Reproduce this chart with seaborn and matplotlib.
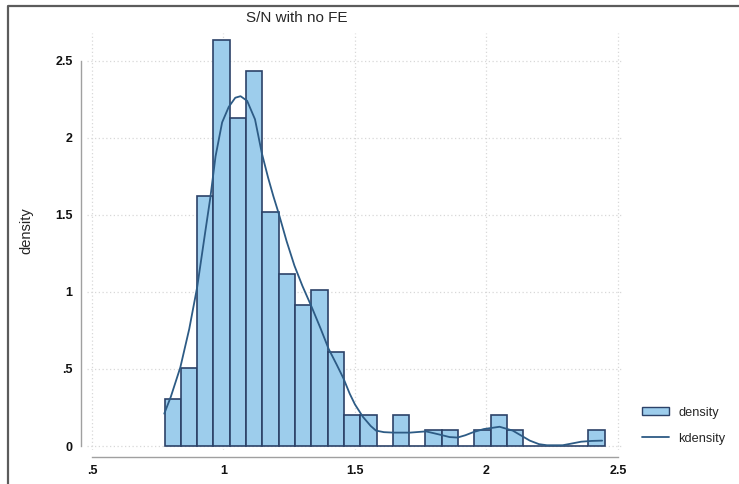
import numpy as np
import pandas as pd
import matplotlib
matplotlib.use("Agg")
import matplotlib.pyplot as plt
from matplotlib.patches import Patch
from matplotlib.lines import Line2D
import seaborn as sns

# histogram: bin layout and counts (27 bins)
bin_start = 0.776
bin_width = 0.062
bin_counts = [3, 5, 16, 26, 21, 24, 15, 11, 9, 10, 6, 2, 2,
              0, 2, 0, 1, 1, 0, 1, 2, 1, 0, 0, 0, 0, 1]

# kdensity curve, points
kde_x = [0.775, 0.80, 0.836, 0.87, 0.90, 0.93, 0.95, 0.97, 0.995, 1.02,
         1.045, 1.065, 1.09, 1.12, 1.146, 1.17, 1.19, 1.21, 1.24, 1.27,
         1.30, 1.336, 1.37, 1.40, 1.43, 1.456, 1.48, 1.50, 1.53, 1.56,
         1.58, 1.61, 1.645, 1.71, 1.77, 1.82, 1.86, 1.89, 1.92, 1.95,
         1.99, 2.05, 2.10, 2.13, 2.165, 2.20, 2.23, 2.29, 2.33, 2.36,
         2.40, 2.44]
kde_y = [0.21, 0.32, 0.51, 0.76, 1.03, 1.38, 1.61, 1.88, 2.10, 2.20,
         2.26, 2.27, 2.24, 2.12, 1.90, 1.74, 1.62, 1.51, 1.33, 1.17,
         1.04, 0.90, 0.76, 0.63, 0.53, 0.44, 0.34, 0.27, 0.19, 0.13,
         0.10, 0.09, 0.087, 0.087, 0.095, 0.075, 0.058, 0.055, 0.07, 0.09,
         0.11, 0.125, 0.10, 0.07, 0.035, 0.012, 0.005, 0.005, 0.018, 0.028,
         0.033, 0.035]

x_ticks = [0.5, 1, 1.5, 2, 2.5]
x_labels = [".5", "1", "1.5", "2", "2.5"]
y_ticks = [0, 0.5, 1, 1.5, 2, 2.5]
y_labels = ["0", ".5", "1", "1.5", "2", "2.5"]

fill_col = "#9dcdec"
edge_col = "#2c4268"
line_col = "#2d5b85"
axis_col = "#a0a0a0"

sns.set_style("white")
plt.rcParams["font.family"] = ["Liberation Sans", "DejaVu Sans"]

n_bins = len(bin_counts)
edges = [bin_start + bin_width * i for i in range(n_bins + 1)]
centers = [e + bin_width / 2 for e in edges[:-1]]
hist_df = pd.DataFrame({"value": centers, "count": bin_counts})
kde_df = pd.DataFrame({"x": kde_x, "y": kde_y})

fig = plt.figure(figsize=(7.39, 4.84), dpi=100)
ax = fig.add_axes([0.1173, 0.0702, 0.726, 0.8616])

sns.histplot(data=hist_df, x="value", weights="count", bins=edges,
             stat="density", color=fill_col, alpha=1, edgecolor=edge_col,
             linewidth=1.2, ax=ax)
sns.lineplot(data=kde_df, x="x", y="y", color=line_col, linewidth=1.3,
             ax=ax, sort=False)

ax.set_xlim(0.48, 2.52)
ax.set_ylim(-0.026, 2.68)
ax.set_xticks(x_ticks)
ax.set_xticklabels(x_labels)
ax.set_yticks(y_ticks)
ax.set_yticklabels(y_labels)
ax.grid(True, color="#d8d8d8", linestyle=(0, (1, 2)), linewidth=0.9)
ax.set_axisbelow(True)

for side in ["top", "right"]:
    ax.spines[side].set_visible(False)
ax.spines["left"].set_bounds(0, 2.5)
ax.spines["bottom"].set_bounds(0.5, 2.5)
ax.spines["left"].set_position(("outward", 4))
ax.spines["bottom"].set_position(("outward", 5))
for side in ["left", "bottom"]:
    ax.spines[side].set_color(axis_col)
    ax.spines[side].set_linewidth(1.0)
ax.tick_params(axis="both", direction="out", length=3.6, width=1.0,
               color=axis_col, labelsize=9, labelcolor="#111111", pad=2.5)
for lab in ax.get_xticklabels() + ax.get_yticklabels():
    lab.set_fontweight("bold")

ax.set_xlabel("")
ax.set_ylabel("density", fontsize=10.5)
ax.yaxis.set_label_coords(-0.100, 0.525)

fig.text(297 / 739, 1 - 18 / 484, "S/N with no FE", fontsize=11,
         ha="center", va="center")

handles = [Patch(facecolor=fill_col, edgecolor=edge_col, linewidth=1.0),
           Line2D([0], [0], color=line_col, linewidth=1.3)]
fig.legend(handles, ["density", "kdensity"], loc="upper left",
           bbox_to_anchor=(0.869, 0.160), frameon=False, fontsize=9.2,
           handlelength=2.1, handleheight=0.6, handletextpad=0.75,
           labelspacing=1.1, borderpad=0, borderaxespad=0)

# outer graph frame (left and top edges visible in the crop)
fx = 8 / 739
fy = 1 - 6 / 484
fig.add_artist(Line2D([fx, fx, 1], [0, fy, fy], transform=fig.transFigure,
                      color="#5c5c5c", linewidth=1.6))

fig.savefig("out.png", dpi=100)
